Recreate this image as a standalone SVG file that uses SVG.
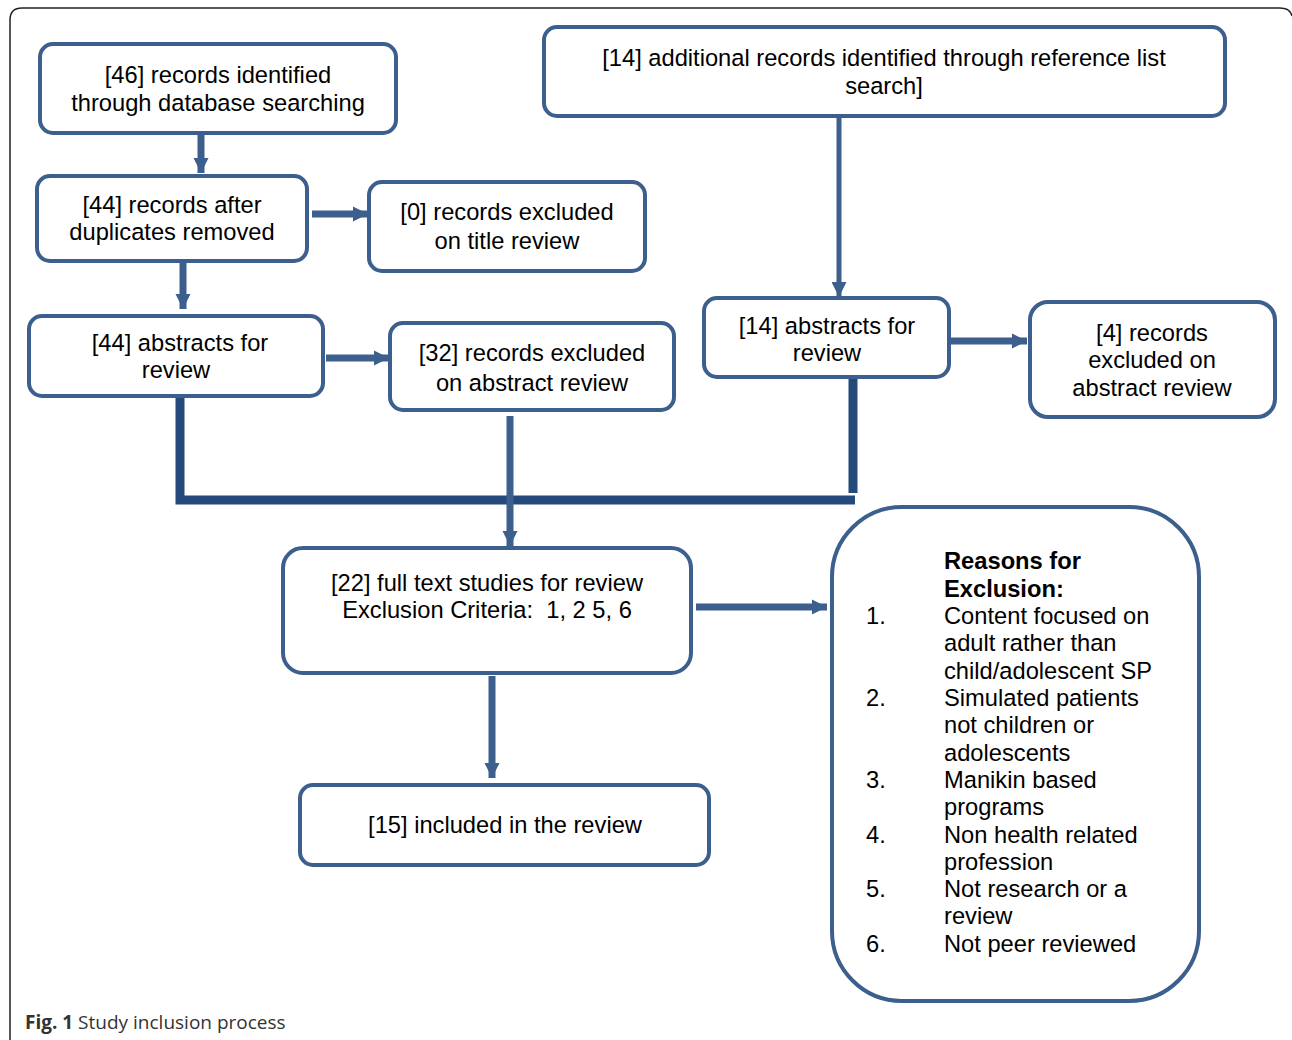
<svg xmlns="http://www.w3.org/2000/svg" width="1292" height="1040" viewBox="0 0 1292 1040">
<defs>
<style>
.box{fill:#fff;stroke:#3c5f8e;stroke-width:4}
.t{font-family:"Liberation Sans",Arial,sans-serif;font-size:23.7px;fill:#000;text-anchor:middle}
.l{font-family:"Liberation Sans",Arial,sans-serif;font-size:23.7px;fill:#000}
.b{font-weight:bold}
.c{stroke:#3c5f8e;stroke-width:7;fill:none}
.thin{stroke:#3c5f8e;stroke-width:5;fill:none}
.thick{stroke:#234a7a;stroke-width:9;fill:none}
.cap{font-family:"Open Sans","Noto Sans",sans-serif;font-size:19px;fill:#333}
</style>
<marker id="ah" viewBox="0 0 10 10" refX="10" refY="5" markerWidth="2.2" markerHeight="2.2" orient="auto" markerUnits="strokeWidth">
<path d="M0,0 L10,5 L0,10 Z" fill="#3c5f8e"/>
</marker>
<marker id="ah2" viewBox="0 0 10 10" refX="10" refY="5" markerWidth="3" markerHeight="3" orient="auto" markerUnits="strokeWidth">
<path d="M0,0 L10,5 L0,10 Z" fill="#3c5f8e"/>
</marker>
</defs>
<rect width="1292" height="1040" fill="#fff"/>
<path d="M10,1040 V20 Q10,8 22,8 H1280 Q1290,8 1292,16" fill="none" stroke="#222" stroke-width="1.5"/>

<g id="connectors">
<line class="c" x1="201" y1="135" x2="201" y2="173" marker-end="url(#ah)"/>
<line class="c" x1="312" y1="214" x2="368" y2="214" marker-end="url(#ah)"/>
<line class="c" x1="183" y1="262" x2="183" y2="309" marker-end="url(#ah)"/>
<line class="c" x1="326" y1="358" x2="389" y2="358" marker-end="url(#ah)"/>
<line class="thin" x1="839" y1="118" x2="839" y2="297" marker-end="url(#ah2)"/>
<line class="c" x1="951" y1="341" x2="1027" y2="341" marker-end="url(#ah)"/>
<path class="thick" d="M180,398 V500 H855"/>
<line class="thick" x1="853" y1="374" x2="853" y2="493"/>
<line class="c" x1="510" y1="416" x2="510" y2="546" marker-end="url(#ah)"/>
<line class="c" x1="696" y1="607" x2="827" y2="607" marker-end="url(#ah)"/>
<line class="c" x1="492" y1="676" x2="492" y2="778" marker-end="url(#ah)"/>
</g>

<g id="n1"><rect class="box" x="40" y="44" width="356" height="89" rx="13"/>
<text class="t" x="218" y="83">[46] records identified</text><text class="t" x="218" y="111">through database searching</text></g>

<g id="n2"><rect class="box" x="37" y="176" width="270" height="85" rx="13"/>
<text class="t" x="172" y="213">[44] records after</text><text class="t" x="172" y="240">duplicates removed</text></g>

<g id="n3"><rect class="box" x="369" y="182" width="276" height="89" rx="13"/>
<text class="t" x="507" y="220">[0] records excluded</text><text class="t" x="507" y="249">on title review</text></g>

<g id="n4"><rect class="box" x="29" y="316" width="294" height="80" rx="13"/>
<text class="t" x="180" y="351">[44] abstracts for</text><text class="t" x="176" y="378">review</text></g>

<g id="n5"><rect class="box" x="390" y="323" width="284" height="87" rx="13"/>
<text class="t" x="532" y="361">[32] records excluded</text><text class="t" x="532" y="391">on abstract review</text></g>

<g id="n6"><rect class="box" x="544" y="27" width="681" height="89" rx="13"/>
<text class="t" x="884" y="66">[14] additional records identified through reference list</text><text class="t" x="884" y="94">search]</text></g>

<g id="n7"><rect class="box" x="704" y="298" width="245" height="79" rx="13"/>
<text class="t" x="827" y="334">[14] abstracts for</text><text class="t" x="827" y="361">review</text></g>

<g id="n8"><rect class="box" x="1030" y="302" width="245" height="115" rx="18"/>
<text class="t" x="1152" y="341">[4] records</text><text class="t" x="1152" y="368">excluded on</text><text class="t" x="1152" y="396">abstract review</text></g>

<g id="n9"><rect class="box" x="283" y="548" width="408" height="125" rx="20"/>
<text class="t" x="487" y="591">[22] full text studies for review</text><text class="t" x="487" y="618" xml:space="preserve">Exclusion Criteria:  1, 2 5, 6</text></g>

<g id="n10"><rect class="box" x="300" y="785" width="409" height="80" rx="13"/>
<text class="t" x="505" y="833">[15] included in the review</text></g>

<g id="n11"><rect class="box" x="832" y="507" width="367" height="494" rx="70"/>
<text class="l b" x="944" y="569">Reasons for</text>
<text class="l b" x="944" y="597">Exclusion:</text>
<text class="l" x="866" y="624">1.</text><text class="l" x="944" y="624">Content focused on</text>
<text class="l" x="944" y="651">adult rather than</text>
<text class="l" x="944" y="679">child/adolescent SP</text>
<text class="l" x="866" y="706">2.</text><text class="l" x="944" y="706">Simulated patients</text>
<text class="l" x="944" y="733">not children or</text>
<text class="l" x="944" y="761">adolescents</text>
<text class="l" x="866" y="788">3.</text><text class="l" x="944" y="788">Manikin based</text>
<text class="l" x="944" y="815">programs</text>
<text class="l" x="866" y="843">4.</text><text class="l" x="944" y="843">Non health related</text>
<text class="l" x="944" y="870">profession</text>
<text class="l" x="866" y="897">5.</text><text class="l" x="944" y="897">Not research or a</text>
<text class="l" x="944" y="924">review</text>
<text class="l" x="866" y="952">6.</text><text class="l" x="944" y="952">Not peer reviewed</text>
</g>

<text class="cap" x="25" y="1029"><tspan font-weight="bold">Fig. 1</tspan> Study inclusion process</text>
</svg>
